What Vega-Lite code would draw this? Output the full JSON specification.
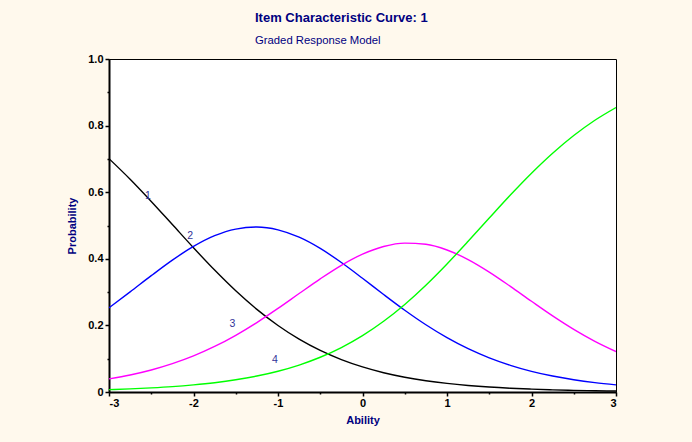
{
  "$schema": "https://vega.github.io/schema/vega-lite/v6.json",
  "width": 507,
  "height": 333,
  "autosize": {"type": "none"},
  "padding": {"left": 109, "top": 59, "right": 76, "bottom": 50},
  "background": "#FFF9ED",
  "title": {
    "text": "Item Characteristic Curve: 1",
    "subtitle": "Graded Response Model",
    "anchor": "start",
    "frame": "group",
    "dx": 146,
    "offset": 7,
    "font": "Liberation Sans",
    "fontSize": 13,
    "fontWeight": "bold",
    "color": "#000080",
    "subtitleFont": "Liberation Sans",
    "subtitleFontSize": 11.3,
    "subtitleColor": "#000080",
    "subtitlePadding": 10
  },
  "config": {
    "view": {"fill": "#FFFFFF", "stroke": "#000000", "strokeWidth": 1},
    "axis": {
      "labelFont": "Liberation Sans",
      "labelFontWeight": "bold",
      "labelFontSize": 11,
      "labelColor": "#000000",
      "titleFont": "Liberation Sans",
      "titleFontWeight": "bold",
      "titleFontSize": 11,
      "titleColor": "#000080",
      "domainColor": "#000000",
      "tickColor": "#000000",
      "grid": false
    }
  },
  "datasets": {
    "curves": [
      {"theta": -3, "prob": 0.7008, "category": "1"},
      {"theta": -2.75, "prob": 0.639, "category": "1"},
      {"theta": -2.5, "prob": 0.5723, "category": "1"},
      {"theta": -2.25, "prob": 0.5028, "category": "1"},
      {"theta": -2, "prob": 0.4332, "category": "1"},
      {"theta": -1.75, "prob": 0.3661, "category": "1"},
      {"theta": -1.5, "prob": 0.3039, "category": "1"},
      {"theta": -1.25, "prob": 0.2481, "category": "1"},
      {"theta": -1, "prob": 0.1996, "category": "1"},
      {"theta": -0.75, "prob": 0.1586, "category": "1"},
      {"theta": -0.5, "prob": 0.1247, "category": "1"},
      {"theta": -0.25, "prob": 0.0972, "category": "1"},
      {"theta": 0, "prob": 0.0753, "category": "1"},
      {"theta": 0.25, "prob": 0.0579, "category": "1"},
      {"theta": 0.5, "prob": 0.0444, "category": "1"},
      {"theta": 0.75, "prob": 0.0339, "category": "1"},
      {"theta": 1, "prob": 0.0259, "category": "1"},
      {"theta": 1.25, "prob": 0.0197, "category": "1"},
      {"theta": 1.5, "prob": 0.0149, "category": "1"},
      {"theta": 1.75, "prob": 0.0113, "category": "1"},
      {"theta": 2, "prob": 0.0086, "category": "1"},
      {"theta": 2.25, "prob": 0.0065, "category": "1"},
      {"theta": 2.5, "prob": 0.0049, "category": "1"},
      {"theta": 2.75, "prob": 0.0037, "category": "1"},
      {"theta": 3, "prob": 0.0028, "category": "1"},

      {"theta": -3, "prob": 0.2528, "category": "2"},
      {"theta": -2.75, "prob": 0.3006, "category": "2"},
      {"theta": -2.5, "prob": 0.3493, "category": "2"},
      {"theta": -2.25, "prob": 0.396, "category": "2"},
      {"theta": -2, "prob": 0.4371, "category": "2"},
      {"theta": -1.75, "prob": 0.4693, "category": "2"},
      {"theta": -1.5, "prob": 0.4892, "category": "2"},
      {"theta": -1.25, "prob": 0.4954, "category": "2"},
      {"theta": -1, "prob": 0.4869, "category": "2"},
      {"theta": -0.75, "prob": 0.4648, "category": "2"},
      {"theta": -0.5, "prob": 0.4311, "category": "2"},
      {"theta": -0.25, "prob": 0.3888, "category": "2"},
      {"theta": 0, "prob": 0.3415, "category": "2"},
      {"theta": 0.25, "prob": 0.2928, "category": "2"},
      {"theta": 0.5, "prob": 0.2455, "category": "2"},
      {"theta": 0.75, "prob": 0.2019, "category": "2"},
      {"theta": 1, "prob": 0.1632, "category": "2"},
      {"theta": 1.25, "prob": 0.1301, "category": "2"},
      {"theta": 1.5, "prob": 0.1026, "category": "2"},
      {"theta": 1.75, "prob": 0.0802, "category": "2"},
      {"theta": 2, "prob": 0.0621, "category": "2"},
      {"theta": 2.25, "prob": 0.0479, "category": "2"},
      {"theta": 2.5, "prob": 0.0368, "category": "2"},
      {"theta": 2.75, "prob": 0.0281, "category": "2"},
      {"theta": 3, "prob": 0.0214, "category": "2"},

      {"theta": -3, "prob": 0.0394, "category": "3"},
      {"theta": -2.75, "prob": 0.0511, "category": "3"},
      {"theta": -2.5, "prob": 0.0661, "category": "3"},
      {"theta": -2.25, "prob": 0.0851, "category": "3"},
      {"theta": -2, "prob": 0.1084, "category": "3"},
      {"theta": -1.75, "prob": 0.1367, "category": "3"},
      {"theta": -1.5, "prob": 0.1703, "category": "3"},
      {"theta": -1.25, "prob": 0.2086, "category": "3"},
      {"theta": -1, "prob": 0.2511, "category": "3"},
      {"theta": -0.75, "prob": 0.2957, "category": "3"},
      {"theta": -0.5, "prob": 0.3399, "category": "3"},
      {"theta": -0.25, "prob": 0.3805, "category": "3"},
      {"theta": 0, "prob": 0.4139, "category": "3"},
      {"theta": 0.25, "prob": 0.4369, "category": "3"},
      {"theta": 0.5, "prob": 0.4471, "category": "3"},
      {"theta": 0.75, "prob": 0.4435, "category": "3"},
      {"theta": 1, "prob": 0.4264, "category": "3"},
      {"theta": 1.25, "prob": 0.3977, "category": "3"},
      {"theta": 1.5, "prob": 0.3601, "category": "3"},
      {"theta": 1.75, "prob": 0.3171, "category": "3"},
      {"theta": 2, "prob": 0.2724, "category": "3"},
      {"theta": 2.25, "prob": 0.2286, "category": "3"},
      {"theta": 2.5, "prob": 0.1881, "category": "3"},
      {"theta": 2.75, "prob": 0.1521, "category": "3"},
      {"theta": 3, "prob": 0.1214, "category": "3"},

      {"theta": -3, "prob": 0.007, "category": "4"},
      {"theta": -2.75, "prob": 0.0093, "category": "4"},
      {"theta": -2.5, "prob": 0.0123, "category": "4"},
      {"theta": -2.25, "prob": 0.0161, "category": "4"},
      {"theta": -2, "prob": 0.0213, "category": "4"},
      {"theta": -1.75, "prob": 0.0279, "category": "4"},
      {"theta": -1.5, "prob": 0.0366, "category": "4"},
      {"theta": -1.25, "prob": 0.0479, "category": "4"},
      {"theta": -1, "prob": 0.0624, "category": "4"},
      {"theta": -0.75, "prob": 0.0809, "category": "4"},
      {"theta": -0.5, "prob": 0.1043, "category": "4"},
      {"theta": -0.25, "prob": 0.1335, "category": "4"},
      {"theta": 0, "prob": 0.1693, "category": "4"},
      {"theta": 0.25, "prob": 0.2124, "category": "4"},
      {"theta": 0.5, "prob": 0.263, "category": "4"},
      {"theta": 0.75, "prob": 0.3207, "category": "4"},
      {"theta": 1, "prob": 0.3845, "category": "4"},
      {"theta": 1.25, "prob": 0.4525, "category": "4"},
      {"theta": 1.5, "prob": 0.5224, "category": "4"},
      {"theta": 1.75, "prob": 0.5914, "category": "4"},
      {"theta": 2, "prob": 0.6569, "category": "4"},
      {"theta": 2.25, "prob": 0.717, "category": "4"},
      {"theta": 2.5, "prob": 0.7702, "category": "4"},
      {"theta": 2.75, "prob": 0.8161, "category": "4"},
      {"theta": 3, "prob": 0.8544, "category": "4"}
    ],
    "labels": [
      {"theta": -2.54, "prob": 0.59, "category": "1"},
      {"theta": -2.04, "prob": 0.468, "category": "2"},
      {"theta": -1.54, "prob": 0.203, "category": "3"},
      {"theta": -1.035, "prob": 0.095, "category": "4"}
    ]
  },
  "resolve": {"axis": {"x": "independent", "y": "independent"}},
  "layer": [
    {
      "data": {"name": "curves"},
      "mark": {"type": "line", "interpolate": "monotone", "strokeWidth": 1.4, "clip": true},
      "encoding": {
        "x": {
          "field": "theta",
          "type": "quantitative",
          "scale": {"domain": [-3, 3], "nice": false, "zero": false},
          "axis": {
            "title": "Ability",
            "values": [-3, -2, -1, 0, 1, 2, 3],
            "labelExpr": "'' + datum.value",
            "domainWidth": 2,
            "tickSize": 4,
            "tickWidth": 1.5,
            "labelPadding": 1,
            "titlePadding": 6
          }
        },
        "y": {
          "field": "prob",
          "type": "quantitative",
          "scale": {"domain": [0, 1], "nice": false},
          "axis": {
            "title": "Probability",
            "values": [0, 0.2, 0.4, 0.6, 0.8, 1],
            "labelExpr": "datum.value === 0 ? '0' : format(datum.value, '.1f')",
            "domainWidth": 2,
            "tickSize": 4,
            "tickWidth": 1.5,
            "labelPadding": 2,
            "titlePadding": 10
          }
        },
        "color": {
          "field": "category",
          "type": "nominal",
          "scale": {"domain": ["1", "2", "3", "4"], "range": ["#000000", "#0000FF", "#FF00FF", "#00FF00"]},
          "legend": null
        }
      }
    },
    {
      "data": {"name": "labels"},
      "mark": {"type": "text", "font": "Liberation Sans", "fontSize": 10.5, "color": "#333399"},
      "encoding": {
        "x": {
          "field": "theta",
          "type": "quantitative",
          "axis": {
            "title": null,
            "orient": "bottom",
            "values": [-2.5, -1.5, -0.5, 0.5, 1.5, 2.5],
            "labels": false,
            "domain": false,
            "tickSize": 2,
            "tickWidth": 1.5
          }
        },
        "y": {
          "field": "prob",
          "type": "quantitative",
          "axis": {
            "title": null,
            "orient": "left",
            "values": [0.1, 0.3, 0.5, 0.7, 0.9],
            "labels": false,
            "domain": false,
            "tickSize": 2,
            "tickWidth": 1.5
          }
        },
        "text": {"field": "category"}
      }
    }
  ]
}
